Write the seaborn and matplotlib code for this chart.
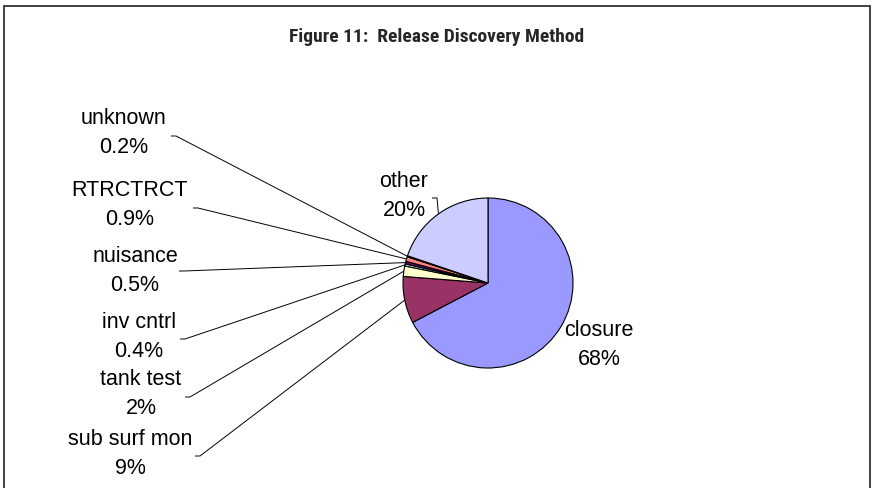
import matplotlib
matplotlib.use("Agg")
import matplotlib.pyplot as plt
import seaborn as sns
import numpy as np
from matplotlib.patches import Rectangle

# Release discovery method shares (percent)
categories = ["closure", "sub surf mon", "tank test", "inv cntrl",
              "nuisance", "RTRCTRCT", "unknown", "other"]
shares = [68, 9, 2, 0.4, 0.5, 0.9, 0.2, 20]
share_labels = ["68%", "9%", "2%", "0.4%", "0.5%", "0.9%", "0.2%", "20%"]
slice_colors = ["#9999FF", "#993366", "#FFFFCC", "#CCFFFF",
                "#660066", "#FF8080", "#0066CC", "#CCCCFF"]

title = "Figure 11:  Release Discovery Method"

sns.set_theme(style="white")
plt.rcParams["font.family"] = ["Liberation Sans", "DejaVu Sans"]

W, H = 878, 489
fig = plt.figure(figsize=(W / 100, H / 100), dpi=100)
ax = fig.add_axes([0, 0, 1, 1])

# pixel-style layout helpers (y measured from the top)
def Y(y):
    return H - y

cx, cy, r = 488, Y(284), 85
palette = sns.color_palette(slice_colors)
wedges, _ = ax.pie(shares, colors=palette, startangle=90, counterclock=False,
                   center=(cx, cy), radius=r,
                   wedgeprops=dict(edgecolor="black", linewidth=0.8))
ax.set_xlim(0, W)
ax.set_ylim(0, H)
ax.set_aspect("equal", adjustable="box")
ax.axis("off")

# label block centres and leader-line starting points
label_pos = {
    "closure": (599, 345),
    "sub surf mon": (130, 454),
    "tank test": (141, 394),
    "inv cntrl": (139, 337),
    "nuisance": (135, 271),
    "RTRCTRCT": (130, 205),
    "unknown": (124, 133),
    "other": (404, 196),
}
leader_start = {
    "sub surf mon": (195, 457),
    "tank test": (185, 398),
    "inv cntrl": (180, 340),
    "nuisance": (179, 272),
    "RTRCTRCT": (193, 209),
    "unknown": (171, 137),
    "other": (432, 199),
}

for w, cat, lab in zip(wedges, categories, share_labels):
    lx, ly = label_pos[cat]
    ax.text(lx, Y(ly), f"{cat}\n{lab}", ha="center", va="center",
            multialignment="center", fontsize=15.5, linespacing=1.55,
            color="black")
    if cat in leader_start:
        # leader runs from a short stub beside the label to the slice's outer mid-point
        mid = np.deg2rad((w.theta1 + w.theta2) / 2)
        ex, ey = cx + r * np.cos(mid), cy + r * np.sin(mid)
        sx, sy = leader_start[cat]
        ax.plot([sx, sx + 5, ex], [Y(sy), Y(sy), ey],
                color="black", lw=0.7, solid_capstyle="butt")

fig.text(437 / W, 1 - 37 / H, title, ha="center", va="center",
         fontsize=14, fontweight="bold",
         family=["Roboto Condensed", "Liberation Sans"])

# chart-area border
ax.add_patch(Rectangle((4, -10), 866, Y(7) + 10, fill=False,
                       edgecolor="#333333", lw=1.3, clip_on=False))

fig.savefig("out.png", dpi=100)
